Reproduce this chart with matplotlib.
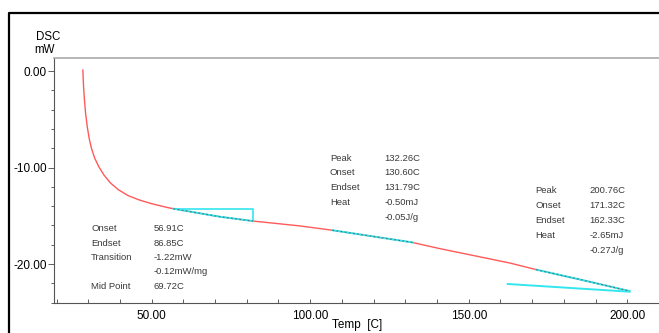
import matplotlib
matplotlib.use("Agg")
import matplotlib.pyplot as plt
from matplotlib.lines import Line2D
from matplotlib.ticker import MultipleLocator, FormatStrFormatter

plt.rcParams['font.family'] = ['Liberation Sans', 'DejaVu Sans']

# DSC heating trace, temperature [C] vs heat flow [mW]
temp = [28.3, 28.5, 28.8, 29.2, 29.7, 30.3, 31.0, 32.0, 33.3, 35.0, 37.0,
        39.5, 42.5, 46.0, 50.0, 55.7, 60.0, 71.5, 82.0, 96.7, 107.0, 120.0,
        132.0, 140.8, 153.4, 163.0, 171.5, 185.0, 200.7]
dsc = [0.1, -1.5, -3.0, -4.5, -5.8, -7.0, -8.0, -9.0, -9.9, -10.8, -11.6,
       -12.3, -12.9, -13.35, -13.75, -14.2, -14.45, -15.1, -15.55, -16.05,
       -16.5, -17.15, -17.75, -18.4, -19.25, -19.9, -20.6, -21.6, -22.8]

# analysed ranges on the trace
glass_range = (56.9, 82.0)
peak1_range = (107.0, 132.3)
peak2_range = (171.3, 200.7)

# glass transition step marker and second-peak baseline
step_level = -14.3
base2_t = [162.3, 200.7]
base2_v = [-22.07, -22.87]

labels_tg = ["Onset", "Endset", "Transition", "", "Mid Point"]
values_tg = ["56.91C", "86.85C", "-1.22mW", "-0.12mW/mg", "69.72C"]
labels_p1 = ["Peak", "Onset", "Endset", "Heat", ""]
values_p1 = ["132.26C", "130.60C", "131.79C", "-0.50mJ", "-0.05J/g"]
labels_p2 = ["Peak", "Onset", "Endset", "Heat", ""]
values_p2 = ["200.76C", "171.32C", "162.33C", "-2.65mJ", "-0.27J/g"]


def interp(t):
    for i in range(len(temp) - 1):
        if temp[i] <= t <= temp[i + 1]:
            f = (t - temp[i]) / (temp[i + 1] - temp[i])
            return dsc[i] + f * (dsc[i + 1] - dsc[i])
    return dsc[-1]


def segment(t0, t1):
    xs = [t0] + [t for t in temp if t0 < t < t1] + [t1]
    return xs, [interp(t) for t in xs]


fig = plt.figure(figsize=(6.59, 3.33), dpi=100)
ax = fig.add_axes([54 / 659, 1 - 303 / 333, 1 - 54 / 659, (303 - 58) / 333])

ax.plot(temp, dsc, color='#ff5a5a', lw=1.0, zorder=2)

for t0, t1 in (glass_range, peak1_range, peak2_range):
    xs, ys = segment(t0, t1)
    ax.plot(xs, ys, color='#33e6ee', lw=1.4, zorder=3)
    ax.plot(xs, ys, color='#555555', lw=0.6, ls=(0, (2, 3)), zorder=4)

# step marker for the glass transition
y_end = interp(glass_range[1])
ax.plot([glass_range[0], glass_range[1], glass_range[1]],
        [step_level, step_level, y_end], color='#33e6ee', lw=1.2, zorder=3)
ax.plot(base2_t, base2_v, color='#33e6ee', lw=1.4, zorder=3)


def block(x_lab, x_val, y_top, labs, vals, dy):
    for i, (l, v) in enumerate(zip(labs, vals)):
        y = y_top - i * dy
        ax.text(x_lab, y, l, fontsize=6.8, color='#3a3a3a', va='center')
        ax.text(x_val, y, v, fontsize=6.8, color='#3a3a3a', va='center')


block(30.9, 50.7, -16.37, labels_tg, values_tg, 1.48)
block(106.2, 123.5, -9.02, labels_p1, values_p1, 1.53)
block(171.1, 188.1, -12.33, labels_p2, values_p2, 1.56)

ax.set_xlim(19.2, 210.0)
ax.set_ylim(-24.04, 1.35)
ax.xaxis.set_major_locator(MultipleLocator(50))
ax.xaxis.set_minor_locator(MultipleLocator(10))
ax.yaxis.set_major_locator(MultipleLocator(10))
ax.yaxis.set_minor_locator(MultipleLocator(2))
ax.xaxis.set_major_formatter(FormatStrFormatter('%.2f'))
ax.yaxis.set_major_formatter(FormatStrFormatter('%.2f'))
ax.tick_params(axis='x', which='both', direction='in', length=3, width=0.6,
               color='#444444', labelsize=8.5, pad=5)
ax.tick_params(axis='y', which='major', direction='out', length=4, width=0.6,
               color='#444444', labelsize=8.5, pad=1)
ax.tick_params(axis='y', which='minor', direction='out', length=2.5, width=0.6,
               color='#444444')

for s in ('left', 'bottom'):
    ax.spines[s].set_color('#555555')
    ax.spines[s].set_linewidth(0.8)
ax.spines['top'].set_color('#aaaaaa')
ax.spines['top'].set_linewidth(1.2)
ax.spines['right'].set_visible(False)

fig.text(36 / 659, 1 - 37 / 333, "DSC", fontsize=8.3, va='center', ha='left')
fig.text(34 / 659, 1 - 50 / 333, "mW", fontsize=8.3, va='center', ha='left')
fig.text(357 / 659, 1 - 325 / 333, "Temp  [C]", fontsize=8.5, va='center', ha='center')

# outer panel frame
fig.add_artist(Line2D([8.5 / 659, 8.5 / 659, 1.0], [0, 1 - 12.5 / 333, 1 - 12.5 / 333],
                      transform=fig.transFigure, color='black', lw=1.6))

fig.savefig("out.png", dpi=100)
